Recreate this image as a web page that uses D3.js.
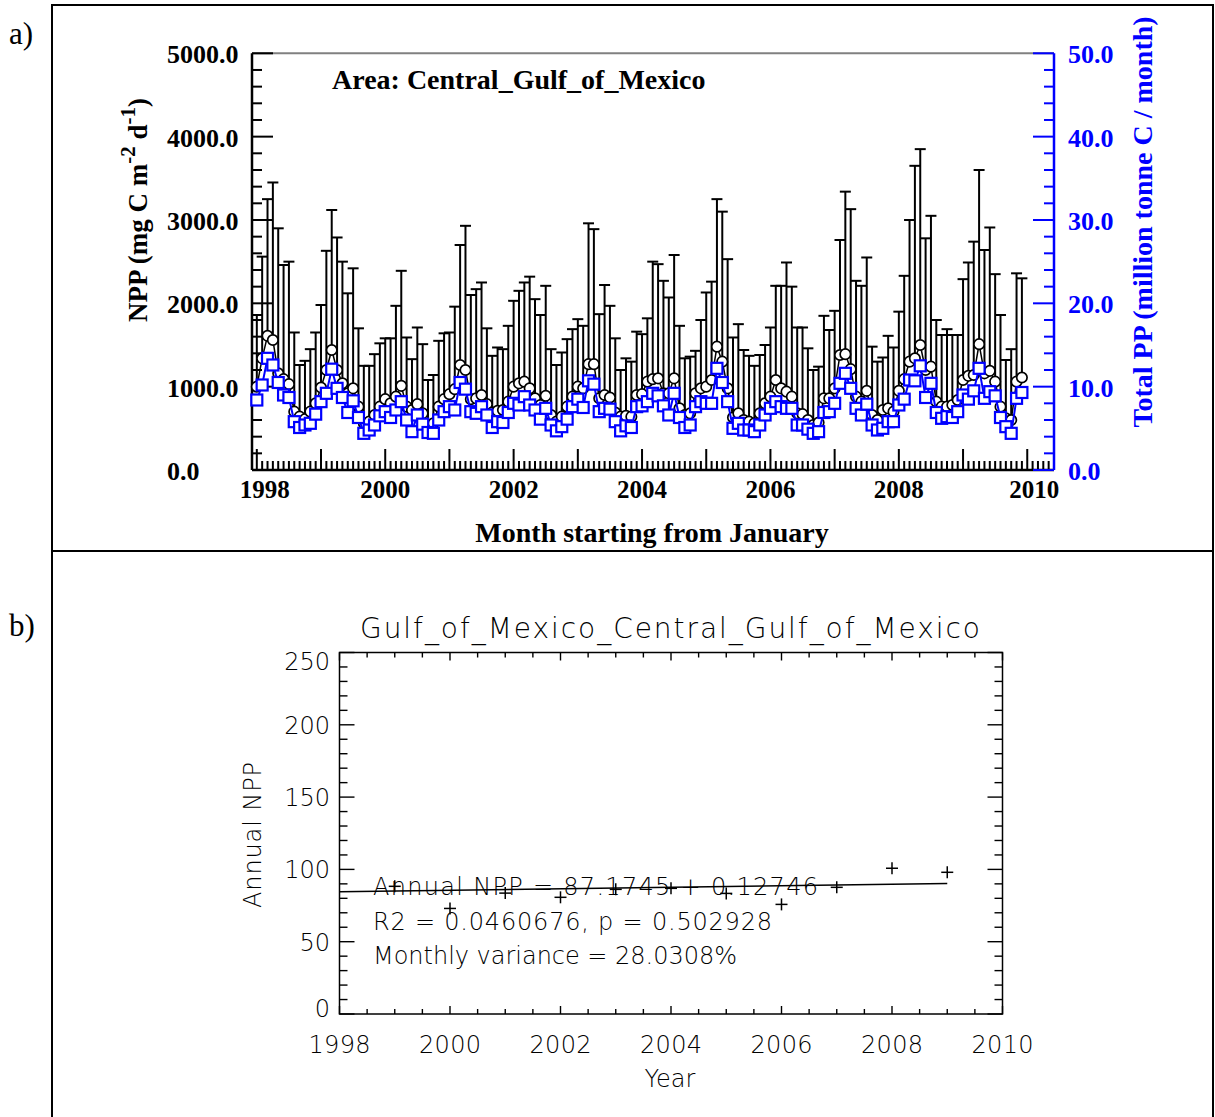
<!DOCTYPE html>
<html><head><meta charset="utf-8">
<script src="https://cdn.jsdelivr.net/npm/d3@7"></script>
<style>body{margin:0;background:#fff}</style>
</head><body>
<svg id="c" width="1215" height="1117"></svg>
<script>
// ---------- DATA (panel a: monthly, Jan 1998 .. Dec 2009) ----------
const meanNPP = [
 1000,1340,1610,1560,1160,1090,1030,700,640,610,700,800,
 990,1200,1440,1200,1040,920,980,760,560,580,660,760,
 850,800,880,1010,760,720,790,680,540,560,760,850,
 910,970,1260,1200,850,860,900,790,690,710,720,820,
 1000,1040,1060,980,860,780,890,660,580,640,760,880,
 1000,980,1270,1270,860,900,870,690,640,650,640,900,
 910,1060,1090,1100,920,920,1100,740,660,680,920,980,
 1000,1080,1480,1300,980,630,680,600,580,560,680,800,
 880,1080,980,940,880,680,670,600,540,570,860,860,
 980,1380,1390,1210,880,820,950,660,600,720,740,700,
 950,1090,1300,1340,1500,1200,1240,820,760,760,780,840,
 1080,1130,1140,1510,1160,1190,1060,760,620,600,1060,1110
];
const upperNPP = [
 1860,2560,3250,3450,2900,2460,2500,1650,1260,1310,1450,1650,
 1980,2630,3120,2790,2500,2120,2420,1700,1250,1250,1390,1520,
 1580,1580,1970,2390,1590,1330,1710,1510,1080,1140,1550,1640,
 1650,1960,2700,2930,2100,2170,2250,1700,1370,1470,1450,1730,
 2030,2150,2250,2320,2050,1860,2210,1450,1260,1410,1570,1690,
 1810,1730,2960,2890,1870,2220,1970,1580,1200,1340,1300,1660,
 1630,1820,2500,2470,2270,2070,2580,1730,1340,1360,1430,1800,
 2130,2260,3250,3100,2530,1590,1750,1440,1370,1250,1380,1500,
 1710,2210,2210,2490,2200,1710,1710,1460,1200,1240,1850,1680,
 1910,2760,3340,3130,2270,2210,2550,1480,1300,1350,1610,1470,
 1900,2330,3000,3650,3850,2780,3050,1800,1620,1690,1620,1620,
 2290,2490,2740,3600,2640,2910,2350,1860,1320,1450,2360,2300
];
const totalPP = [
 8.4,10.2,13.4,12.6,10.5,9.0,8.7,5.8,5.1,5.4,5.6,6.7,
 8.2,9.2,12.1,9.8,8.7,6.9,8.3,6.3,4.4,4.8,5.4,6.5,
 7.0,6.3,7.2,8.2,6.0,4.6,6.6,5.5,4.5,4.4,6.0,7.0,
 7.6,7.2,10.5,9.7,7.0,6.8,7.6,6.6,5.1,5.8,5.7,6.9,
 8.0,7.8,8.8,7.8,7.2,6.1,7.4,5.4,4.7,5.2,6.1,7.6,
 8.5,7.5,10.7,10.3,7.0,7.4,7.3,5.8,4.7,5.3,5.1,7.6,
 7.7,8.2,9.2,8.9,7.7,6.6,9.2,6.3,5.1,5.4,7.6,8.2,
 8.0,8.0,12.2,10.5,8.2,5.0,5.6,4.8,4.8,4.6,5.4,6.6,
 7.4,8.2,7.6,7.4,7.4,5.4,5.4,4.9,4.4,4.6,6.9,7.0,
 8.0,10.4,11.6,9.8,7.4,6.6,7.9,5.4,4.8,5.0,5.8,5.8,
 7.8,8.5,10.8,10.7,12.5,8.7,10.4,6.9,6.2,6.4,6.3,7.0,
 9.0,8.5,9.5,12.2,8.6,9.4,8.9,6.3,5.2,4.4,8.6,9.3
];
const yearLabelsA = [1998,2000,2002,2004,2006,2008,2010];
const leftTicksA = [0,1000,2000,3000,4000,5000];
const rightTicksA = [0,10,20,30,40,50];

// ---------- DATA (panel b: annual) ----------
const annualYears = [1999,2000,2001,2002,2003,2004,2005,2006,2007,2008,2009];
const annualNPP   = [88.3,73.0,83.6,80.7,86.2,86.9,83.4,75.8,87.6,100.8,98.0];
const trendYears  = [1998,2009];
const trendNPP    = [84.5,90.2];
const yearTicksB  = [1998,2000,2002,2004,2006,2008,2010];
const nppTicksB   = [0,50,100,150,200,250];
const statLines = ["Annual NPP = 87.1745 +  0.12746",
                   "R2 = 0.0460676, p = 0.502928",
                   "Monthly variance = 28.0308%"];
const statWidths = [445,399,364];

const svg = d3.select("#c");
svg.append("rect").attr("width",1215).attr("height",1117).attr("fill","#fff");

// frames
const frame = svg.append("g").attr("stroke","#000").attr("stroke-width",2).attr("fill","none");
frame.append("path").attr("d","M52,1117 V5 H1213 V1117");
frame.append("line").attr("x1",52).attr("x2",1213).attr("y1",551).attr("y2",551);
svg.append("text").attr("x",9).attr("y",44).attr("font-family","Liberation Serif").attr("font-size",31).text("a)");
svg.append("text").attr("x",9).attr("y",636).attr("font-family","Liberation Serif").attr("font-size",31).text("b)");

// ================= PANEL A =================
const serif = "Liberation Serif";
const xA = d3.scaleLinear().domain([-0.9,149]).range([252,1054]);
const yL = d3.scaleLinear().domain([0,5000]).range([470,53.3]);
const yR = d3.scaleLinear().domain([0,50]).range([470,53.3]);
const gA = svg.append("g");

// top gray line
gA.append("line").attr("x1",252).attr("x2",1054).attr("y1",53.3).attr("y2",53.3)
  .attr("stroke","#808080").attr("stroke-width",2);

// bottom axis: monthly minor ticks, yearly major ticks
const monthTicks = d3.range(0,149);
const axB = gA.append("g").attr("transform","translate(0,470)");
axB.append("line").attr("x1",252).attr("x2",1054).attr("stroke","#000").attr("stroke-width",2.5);
axB.selectAll("line.t").data(monthTicks).join("line").attr("class","t")
  .attr("x1",d=>xA(d)).attr("x2",d=>xA(d)).attr("y1",0).attr("y2",d=>d%12===0?-21:-9)
  .attr("stroke","#000").attr("stroke-width",2);
axB.selectAll("text").data(yearLabelsA).join("text")
  .attr("x",(d,i)=>xA((d-1998)*12)+(i===0?8:(i===yearLabelsA.length-1?7:0)))
  .attr("y",28).attr("text-anchor","middle")
  .attr("font-family",serif).attr("font-weight","bold").attr("font-size",25).text(d=>d);

// left axis
const leftMinor = d3.range(0,5001,200);
const axL = gA.append("g").attr("transform","translate(252,0)");
axL.append("line").attr("y1",53.3).attr("y2",470).attr("stroke","#000").attr("stroke-width",2.5);
axL.selectAll("line.t").data(leftMinor).join("line").attr("class","t")
  .attr("y1",d=>yL(d)).attr("y2",d=>yL(d)).attr("x1",0).attr("x2",d=>d%1000===0?21:10)
  .attr("stroke","#000").attr("stroke-width",2);
axL.selectAll("text").data(leftTicksA).join("text")
  .attr("x",-85).attr("y",d=>yL(d)+10)
  .attr("font-family",serif).attr("font-weight","bold").attr("font-size",26)
  .text(d=>d3.format(".1f")(d));

// right axis
const rightMinor = d3.range(0,51,2);
const axR = gA.append("g").attr("transform","translate(1054,0)");
axR.append("line").attr("y1",53.3).attr("y2",470).attr("stroke","#0000ff").attr("stroke-width",2.5);
axR.selectAll("line.t").data(rightMinor).join("line").attr("class","t")
  .attr("y1",d=>yR(d)).attr("y2",d=>yR(d)).attr("x1",0).attr("x2",d=>d%10===0?-21:-10)
  .attr("stroke","#0000ff").attr("stroke-width",2);
axR.selectAll("text").data(rightTicksA).join("text")
  .attr("x",14).attr("y",d=>yR(d)+10).attr("fill","#0000ff")
  .attr("font-family",serif).attr("font-weight","bold").attr("font-size",26)
  .text(d=>d3.format(".1f")(d));

// titles
gA.append("text").attr("x",332).attr("y",89).attr("font-family",serif).attr("font-weight","bold")
  .attr("font-size",28).text("Area: Central_Gulf_of_Mexico");
gA.append("text").attr("x",652).attr("y",542).attr("text-anchor","middle").attr("font-family",serif)
  .attr("font-weight","bold").attr("font-size",28).text("Month starting from January");
const yt = gA.append("text").attr("transform","translate(147,210) rotate(-90)").attr("text-anchor","middle")
  .attr("font-family",serif).attr("font-weight","bold").attr("font-size",27);
yt.append("tspan").text("NPP (mg C m");
yt.append("tspan").attr("dy",-12).attr("font-size",21).text("-2");
yt.append("tspan").attr("dy",12).text(" d");
yt.append("tspan").attr("dy",-12).attr("font-size",21).text("-1");
yt.append("tspan").attr("dy",12).text(")");
gA.append("text").attr("transform","translate(1152,222) rotate(-90)").attr("text-anchor","middle")
  .attr("font-family",serif).attr("font-weight","bold").attr("font-size",28).attr("fill","#0000ff")
  .text("Total PP (million tonne C / month)");

// error bars
const months = d3.range(meanNPP.length);
const eb = gA.append("g").attr("stroke","#000").attr("stroke-width",2);
eb.selectAll("line.v").data(months).join("line").attr("class","v")
  .attr("x1",d=>xA(d)).attr("x2",d=>xA(d)).attr("y1",d=>yL(meanNPP[d])).attr("y2",d=>yL(upperNPP[d]));
eb.selectAll("line.h").data(months).join("line").attr("class","h")
  .attr("x1",d=>xA(d)-5.5).attr("x2",d=>xA(d)+5.5).attr("y1",d=>yL(upperNPP[d])).attr("y2",d=>yL(upperNPP[d]));

// mean line + circles
gA.append("path").datum(months)
  .attr("d",d3.line().x(d=>xA(d)).y(d=>yL(meanNPP[d])))
  .attr("fill","none").attr("stroke","#000").attr("stroke-width",1.5);
gA.append("g").selectAll("circle").data(months).join("circle")
  .attr("cx",d=>xA(d)).attr("cy",d=>yL(meanNPP[d])).attr("r",5.2)
  .attr("fill","#fff").attr("stroke","#000").attr("stroke-width",1.7);

// total PP line + squares
gA.append("path").datum(months)
  .attr("d",d3.line().x(d=>xA(d)).y(d=>yR(totalPP[d])))
  .attr("fill","none").attr("stroke","#0000ff").attr("stroke-width",2);
gA.append("g").selectAll("rect").data(months).join("rect")
  .attr("x",d=>xA(d)-5.5).attr("y",d=>yR(totalPP[d])-5.5).attr("width",11).attr("height",11)
  .attr("fill","#fff").attr("stroke","#0000ff").attr("stroke-width",2.2);

// ================= PANEL B =================
const sans = "DejaVu Sans";
const xB = d3.scaleLinear().domain([1998,2010]).range([339.5,1002.5]);
const yB = d3.scaleLinear().domain([0,250]).range([1014,652.5]);
const gB = svg.append("g").attr("font-family",sans).attr("font-weight",200);
gB.append("rect").attr("x",339.5).attr("y",652.5).attr("width",663).attr("height",361.5)
  .attr("fill","none").attr("stroke","#000").attr("stroke-width",1.5);

const xMinorB = d3.range(1998,2010.01,0.5);
const yMinorB = d3.range(0,250.01,10);
const tk = gB.append("g").attr("stroke","#000").attr("stroke-width",1.4);
tk.selectAll("line.b").data(xMinorB).join("line").attr("class","b")
  .attr("x1",d=>xB(d)).attr("x2",d=>xB(d)).attr("y1",1014).attr("y2",d=>1014-(d%2===0?8:5));
tk.selectAll("line.tp").data(xMinorB).join("line").attr("class","tp")
  .attr("x1",d=>xB(d)).attr("x2",d=>xB(d)).attr("y1",652.5).attr("y2",d=>652.5+(d%2===0?8:5));
tk.selectAll("line.l").data(yMinorB).join("line").attr("class","l")
  .attr("y1",d=>yB(d)).attr("y2",d=>yB(d)).attr("x1",339.5).attr("x2",d=>339.5+(d%50===0?15:8));
tk.selectAll("line.r").data(yMinorB).join("line").attr("class","r")
  .attr("y1",d=>yB(d)).attr("y2",d=>yB(d)).attr("x1",1002.5).attr("x2",d=>1002.5-(d%50===0?15:8));

gB.selectAll("text.xl").data(yearTicksB).join("text").attr("class","xl")
  .attr("x",d=>xB(d)).attr("y",1053).attr("text-anchor","middle").attr("font-size",24)
  .attr("textLength",62).attr("lengthAdjust","spacing").text(d=>d);
gB.selectAll("text.yl").data(nppTicksB).join("text").attr("class","yl")
  .attr("x",330).attr("y",(d,i)=>yB(d)+9+(d===250?8:0)-(d===0?6:0)).attr("text-anchor","end").attr("font-size",24).text(d=>d);
gB.append("text").attr("x",670).attr("y",1087).attr("text-anchor","middle").attr("font-size",24).text("Year");
gB.append("text").attr("transform","translate(261,835) rotate(-90)").attr("text-anchor","middle")
  .attr("font-size",24).attr("textLength",146).attr("lengthAdjust","spacing").text("Annual NPP");
gB.append("text").attr("x",360).attr("y",638).attr("font-size",28)
  .attr("textLength",620).attr("lengthAdjust","spacing")
  .text("Gulf_of_Mexico_Central_Gulf_of_Mexico");

// trend line
gB.append("path").datum(d3.range(trendYears.length))
  .attr("d",d3.line().x(i=>xB(trendYears[i])).y(i=>yB(trendNPP[i])))
  .attr("stroke","#000").attr("stroke-width",1.5).attr("fill","none");
// plus markers
const pm = gB.append("g").attr("stroke","#000").attr("stroke-width",1.5);
annualYears.forEach((yr,i)=>{
  const cx=xB(yr), cy=yB(annualNPP[i]);
  pm.append("line").attr("x1",cx-6).attr("x2",cx+6).attr("y1",cy).attr("y2",cy);
  pm.append("line").attr("x1",cx).attr("x2",cx).attr("y1",cy-6).attr("y2",cy+6);
});
gB.selectAll("text.st").data(statLines).join("text").attr("class","st")
  .attr("x",373).attr("y",(d,i)=>895+i*34.5).attr("font-size",24)
  .attr("textLength",(d,i)=>statWidths[i]).attr("lengthAdjust","spacing").text(d=>d);
</script>
</body></html>
